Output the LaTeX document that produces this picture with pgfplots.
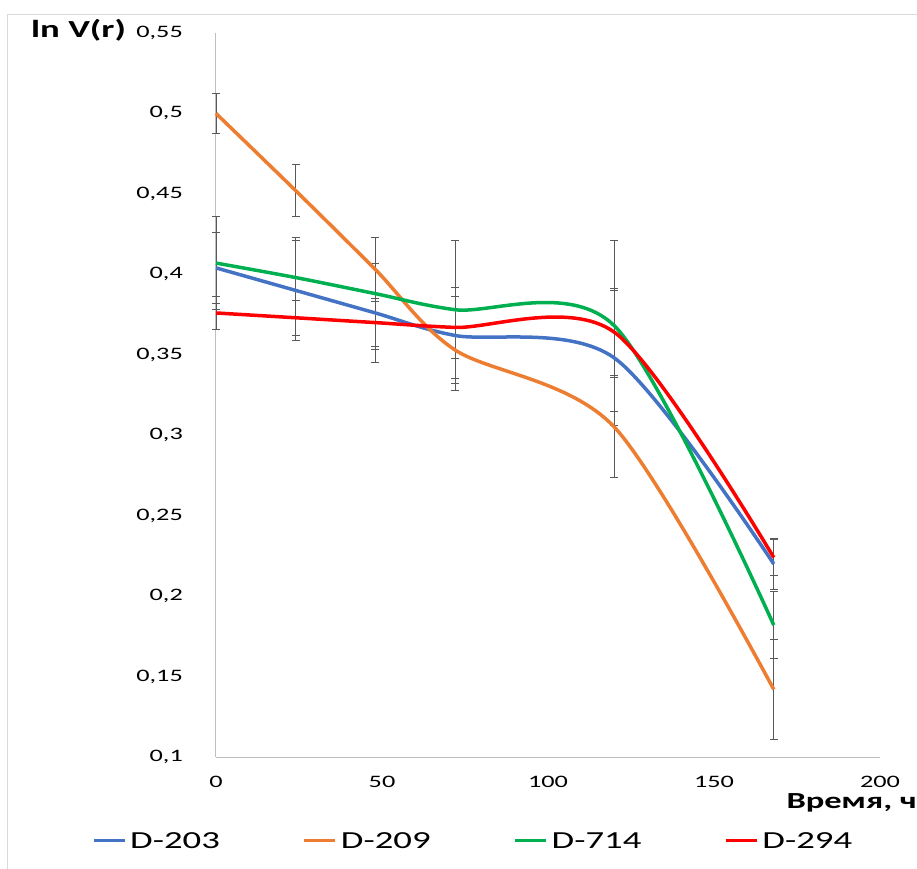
\documentclass[border=0pt]{standalone}
\usepackage{fontspec}
\setmainfont{Carlito}[FakeStretch=1.5]
\usepackage{pgfplots}
\usepackage{pgfplotstable}
\pgfplotsset{compat=1.18}
\definecolor{cA}{HTML}{4472C4}
\definecolor{cB}{HTML}{ED7D31}
\definecolor{cC}{HTML}{00B050}
\definecolor{cD}{HTML}{FF0000}
\definecolor{frame}{HTML}{D9D9D9}
\definecolor{axl}{HTML}{BFBFBF}
\definecolor{eb}{HTML}{595959}

\pgfplotstableread{
x y e
0 0.404 0.022
24 0.390 0.031
48 0.376 0.031
72 0.362 0.030
120 0.348 0.042
168 0.220 0.016
}\tA
\pgfplotstableread{
x y e
0 0.500 0.0125
24 0.452 0.016
48 0.403 0.020
72 0.353 0.025
120 0.305 0.031
168 0.142 0.031
}\tB
\pgfplotstableread{
x y e
0 0.407 0.029
24 0.398 0.025
48 0.388 0.035
72 0.378 0.043
120 0.368 0.053
168 0.182 0.021
}\tC
\pgfplotstableread{
x y e
0 0.376 0.010
24 0.373 0.011
48 0.370 0.015
72 0.367 0.019
120 0.364 0.027
168 0.224 0.011
}\tD

\begin{document}
\begin{tikzpicture}
\path[use as bounding box] (-216bp,-112bp) rectangle (701bp,757bp);
\draw[frame, line width=1bp] (-208bp,-112bp) |- (701bp,742bp);
\begin{axis}[
  at={(0,0)}, anchor=south west,
  scale only axis, width=664bp, height=724bp,
  xmin=0, xmax=200, ymin=0.1, ymax=0.55,
  xtick={0,50,100,150,200},
  ytick={0.1,0.15,0.2,0.25,0.3,0.35,0.4,0.45,0.5,0.55},
  yticklabels={0{,}1,0{,}15,0{,}2,0{,}25,0{,}3,0{,}35,0{,}4,0{,}45,0{,}5,0{,}55},
  axis x line*=bottom, axis y line*=left,
  axis line style={-, draw=axl, line width=1bp},
  tick style={draw=none},
  /pgf/number format/assume math mode=true,
  ticklabel style={font=\fontsize{17.5bp}{20bp}\selectfont},
  yticklabel style={anchor=east, inner sep=0pt, xshift=-33bp},
  xticklabel style={anchor=north, inner sep=0pt, yshift=-19bp},
  clip=false,
  legend columns=4,
  legend style={draw=none, fill=none, at={(rel axis cs:0,0)}, anchor=north west,
    xshift=-124bp, yshift=-75bp, inner sep=0pt,
    font=\fontsize{24.5bp}{28bp}\selectfont,
    nodes={inner sep=0pt},
    /tikz/every odd column/.append style={column sep=4bp},
    /tikz/every even column/.append style={column sep=83bp}},
  legend image code/.code={\draw[#1, line width=3bp] (0bp,0bp) -- (31bp,0bp);},
  every axis plot/.append style={line width=3.5bp, smooth, tension=0.5},
]
\pgfplotsset{ebs/.style={draw=none, forget plot, smooth=false,
  error bars/.cd, y dir=both, y explicit,
  error bar style={draw=eb, line width=0.9bp},
  error mark options={draw=eb, rotate=90, mark size=4bp, line width=0.9bp}}}
\addplot[ebs] table[x=x, y=y, y error=e] {\tA};
\addplot[ebs] table[x=x, y=y, y error=e] {\tB};
\addplot[ebs] table[x=x, y=y, y error=e] {\tC};
\addplot[ebs] table[x=x, y=y, y error=e] {\tD};
\addplot[cA, no marks] table[x=x, y=y] {\tA};
\addlegendentry{D-203}
\addplot[cB, no marks] table[x=x, y=y] {\tB};
\addlegendentry{D-209}
\addplot[cC, no marks] table[x=x, y=y] {\tC};
\addlegendentry{D-714}
\addplot[cD, no marks] table[x=x, y=y] {\tD};
\addlegendentry{D-294}
\node[anchor=base west, inner sep=0pt, font=\bfseries\fontsize{24.5bp}{28bp}\selectfont]
  at (rel axis cs:0,1) [xshift=-185bp, yshift=-5bp] {ln V(r)};
\node[anchor=north east, inner sep=0pt, font=\bfseries\fontsize{23bp}{26bp}\selectfont]
  at (rel axis cs:1,0) [xshift=37bp, yshift=-36bp] {Время, ч};
\end{axis}
\end{tikzpicture}
\end{document}
